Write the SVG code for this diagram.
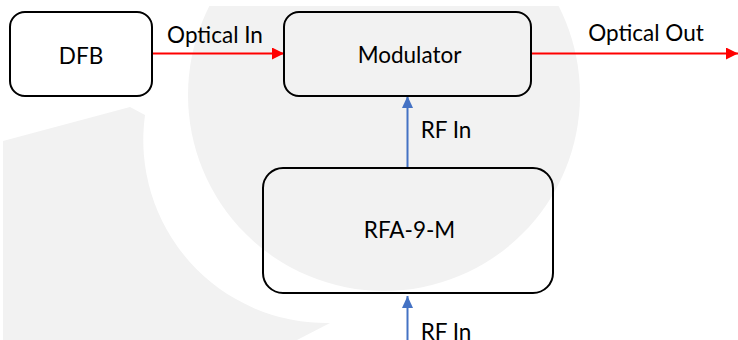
<svg xmlns="http://www.w3.org/2000/svg" width="738" height="340" viewBox="0 0 738 340">
  <defs>
    <style>
      .wm { fill: #f2f2f2; stroke: none; }
      .box { fill: none; stroke: #000; stroke-width: 2; }
      .lbl { font-family: Lato, "Liberation Sans", sans-serif; font-size: 22.5px; fill: #000; }
      .opt { stroke: #ff0000; stroke-width: 2; fill: none; }
      .rf { stroke: #4472c4; stroke-width: 2; fill: none; }
    </style>
    <marker id="arrRed" markerUnits="userSpaceOnUse" markerWidth="13" markerHeight="13" refX="12" refY="6" orient="auto">
      <path d="M0,0 L12,6 L0,12 Z" fill="#ff0000"/>
    </marker>
    <marker id="arrBlue" markerUnits="userSpaceOnUse" markerWidth="13" markerHeight="13" refX="12" refY="6" orient="auto">
      <path d="M0,0.5 L12,6 L0,11.5 Z" fill="#4472c4"/>
    </marker>
    <clipPath id="wmClip">
      <rect x="0" y="6" width="738" height="334"/>
    </clipPath>
  </defs>

  <rect x="0" y="0" width="738" height="340" fill="#ffffff"/>

  <g id="watermark" clip-path="url(#wmClip)">
    <circle class="wm" cx="384" cy="95" r="196"/>
    <path class="wm" d="M3,141 L130,107 L145,115 A183,183 0 0 0 330,323 L297,340 L3,340 Z"/>
  </g>

  <g id="connectors">
    <g id="optical-in">
      <line class="opt" x1="152" y1="53.5" x2="284" y2="53.5" marker-end="url(#arrRed)"/>
      <text class="lbl" x="215" y="43" text-anchor="middle">Optical In</text>
    </g>
    <g id="optical-out">
      <line class="opt" x1="531" y1="53.5" x2="738" y2="53.5" marker-end="url(#arrRed)"/>
      <text class="lbl" x="646" y="41" text-anchor="middle">Optical Out</text>
    </g>
    <g id="rf-in-mod">
      <line class="rf" x1="407.5" y1="168" x2="407.5" y2="96" marker-end="url(#arrBlue)"/>
      <text class="lbl" x="446" y="138" text-anchor="middle">RF In</text>
    </g>
    <g id="rf-in-rfa">
      <line class="rf" x1="407.5" y1="340" x2="407.5" y2="296" marker-end="url(#arrBlue)"/>
      <text class="lbl" x="446" y="340" text-anchor="middle">RF In</text>
    </g>
  </g>

  <g id="node-dfb">
    <rect class="box" x="10" y="12" width="142" height="84" rx="15" ry="15"/>
    <text class="lbl" x="81" y="64" text-anchor="middle">DFB</text>
  </g>

  <g id="node-modulator">
    <rect class="box" x="284" y="12" width="247" height="84" rx="15" ry="15"/>
    <text class="lbl" x="409.5" y="63" text-anchor="middle">Modulator</text>
  </g>

  <g id="node-rfa">
    <rect class="box" x="263" y="168" width="290" height="125" rx="20" ry="20"/>
    <text class="lbl" x="409.5" y="238" text-anchor="middle">RFA-9-M</text>
  </g>
</svg>
